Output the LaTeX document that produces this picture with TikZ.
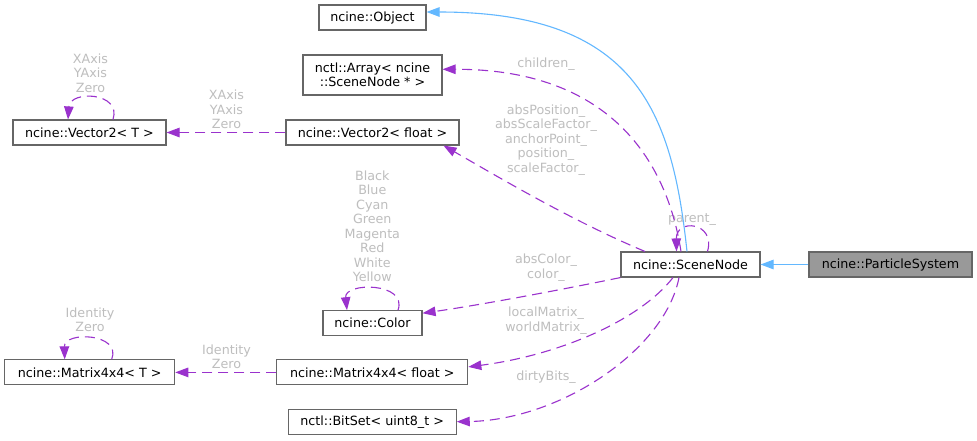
\documentclass[tikz,border=0pt]{standalone}
\usepackage{fontspec}
\setmainfont{DejaVu Sans}
\usetikzlibrary{arrows.meta}
\definecolor{boxborder}{HTML}{666666}
\definecolor{hlfill}{HTML}{999999}
\definecolor{lblgray}{HTML}{BEBEBE}
\definecolor{usepurple}{HTML}{9A32CD}
\definecolor{inhblue}{HTML}{63B8FF}
\begin{document}
\begin{tikzpicture}[x=1pt,y=-1pt,
  cls/.style={draw=boxborder, line width=1.1pt, fill=white, rectangle, inner sep=0pt,
    minimum height=25pt, font=\fontsize{12.7}{14.5}\selectfont, align=center},
  hl/.style={cls, fill=hlfill},
  lbl/.style={text=lblgray, inner sep=0pt, align=center, font=\fontsize{12.7}{14.5}\selectfont},
  inh/.style={draw=inhblue, line width=1.1pt, -{Triangle[length=13pt,width=9.5pt]}},
  use/.style={draw=usepurple, line width=1.1pt, dash pattern=on 10pt off 6pt,
    -{Triangle[length=13pt,width=9.5pt]}}]
\useasboundingbox (0,0) rectangle (977,440);
\fill[white] (0,0) rectangle (977,440);

% nodes
\node[cls, minimum width=107pt] (obj) at (372.5,17.5) {ncine::Object};
\node[cls, minimum width=139pt, minimum height=40pt] (arr) at (372.5,75) {nctl::Array< ncine\\::SceneNode * >};
\node[cls, minimum width=153pt] (v2t) at (89.5,132.5) {ncine::Vector2< T >};
\node[cls, minimum width=173pt] (v2f) at (372.5,132.5) {ncine::Vector2< float >};
\node[cls, minimum width=139pt] (sn) at (690.5,264.5) {ncine::SceneNode};
\node[hl, minimum width=163pt] (ps) at (890.5,264.5) {ncine::ParticleSystem};
\node[cls, minimum width=99pt] (col) at (372.5,323.2) {ncine::Color};
\node[cls, minimum width=170pt] (m4t) at (89.7,372.4) {ncine::Matrix4x4< T >};
\node[cls, minimum width=191pt] (m4f) at (372.3,372.4) {ncine::Matrix4x4< float >};
\node[cls, minimum width=168pt] (bs) at (372.2,421.7) {nctl::BitSet< uint8\_t >};

% edge labels
\node[lbl] (lchildren) at (546,64.3) {children\_};
\node[lbl] (lv2f) at (546,140) {absPosition\_\\absScaleFactor\_\\anchorPoint\_\\position\_\\scaleFactor\_};
\node[lbl] (lparent) at (692,220) {parent\_};
\node[lbl] (lcolor) at (546,267.5) {absColor\_\\color\_};
\node[lbl] (lmat) at (546,320.5) {localMatrix\_\\worldMatrix\_};
\node[lbl] (ldirty) at (546,377) {dirtyBits\_};
\node[lbl] (lv2tself) at (90.5,73) {XAxis\\YAxis\\Zero};
\node[lbl] (lv2) at (226.5,109.5) {XAxis\\YAxis\\Zero};
\node[lbl] (lcolself) at (372.3,226.5) {Black\\Blue\\Cyan\\Green\\Magenta\\Red\\White\\Yellow};
\node[lbl] (lm4tself) at (90,320) {Identity\\Zero};
\node[lbl] (lm4) at (226.5,357) {Identity\\Zero};

% inheritance
\draw[inh] (ps.west) -- (sn.east);
\draw[inh] ([xshift=-3.5pt]sn.north) .. controls (672,110) and (635,12) .. ([yshift=5.5pt]obj.east);

% usage
\draw[use] ([xshift=-9.5pt]sn.north) .. controls (665,150) and (600,69) .. ([yshift=5.7pt]arr.east);
\draw[use] ([xshift=-45.5pt]sn.north) .. controls (570,220) and (495,175) .. ([xshift=71pt]v2f.south);
\draw[use] ([xshift=17pt]sn.north) .. controls (716,222) and (676,218) .. ([xshift=-14pt]sn.north);
\draw[use] (sn.south west) .. controls (560,290) and (480,305) .. ([yshift=10pt]col.east);
\draw[use] ([xshift=-17.5pt]sn.south) .. controls (640,320) and (560,355) .. ([yshift=5.5pt]m4f.east);
\draw[use] ([xshift=-11.5pt]sn.south) .. controls (665,350) and (560,420) .. (bs.east);
\draw[use] (v2f.west) -- (v2t.east);
\draw[use] ([xshift=23.5pt]v2t.north) .. controls (122,92) and (70,90) .. ([xshift=-21.5pt]v2t.north);
\draw[use] ([xshift=25.5pt]col.north) .. controls (408,282) and (344,282) .. ([xshift=-25.5pt]col.north);
\draw[use] ([xshift=22pt]m4t.north) .. controls (122,333) and (64,331) .. ([xshift=-25pt]m4t.north);
\draw[use] (m4f.west) -- (m4t.east);
\end{tikzpicture}
\end{document}
